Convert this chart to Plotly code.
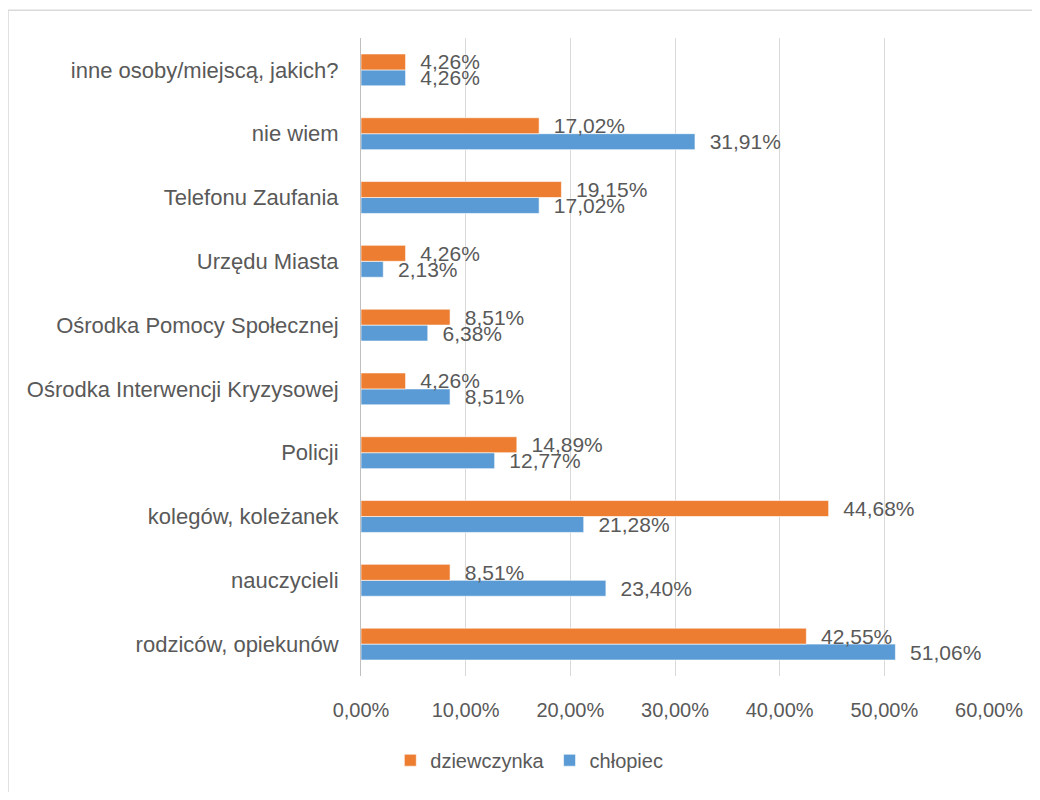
import plotly.graph_objects as go

# categories listed bottom -> top
CATEGORIES = [
    "rodziców, opiekunów",
    "nauczycieli",
    "kolegów, koleżanek",
    "Policji",
    "Ośrodka Interwencji Kryzysowej",
    "Ośrodka Pomocy Społecznej",
    "Urzędu Miasta",
    "Telefonu Zaufania",
    "nie wiem",
    "inne osoby/miejscą, jakich?",
]
DZIEWCZYNKA = [0.4255, 0.0851, 0.4468, 0.1489, 0.0426, 0.0851, 0.0426, 0.1915, 0.1702, 0.0426]
CHLOPIEC = [0.5106, 0.2340, 0.2128, 0.1277, 0.0851, 0.0638, 0.0213, 0.1702, 0.3191, 0.0426]
X_TICKS = [0, 0.1, 0.2, 0.3, 0.4, 0.5, 0.6]

FONT = "Liberation Sans, Arial, sans-serif"
GREY = "#595959"

fig = go.Figure()
for name, vals, color in [("chłopiec", CHLOPIEC, "#5B9BD5"),
                          ("dziewczynka", DZIEWCZYNKA, "#ED7D31")]:
    fig.add_trace(go.Bar(
        y=CATEGORIES, x=vals, name=name, orientation="h",
        marker=dict(color=color, line=dict(color="rgba(255,255,255,0.6)", width=1)),
        texttemplate="\u00a0\u00a0%{x:.2%}", textposition="outside",
        textfont=dict(size=21, color=GREY, family=FONT),
        cliponaxis=False, constraintext="none",
    ))

# page body adds 8px offset, so the figure is 16px smaller than the window
fig.update_layout(
    width=1024, height=784,
    separators=", ",
    font=dict(family=FONT, color=GREY, size=20),
    plot_bgcolor="white", paper_bgcolor="white",
    margin=dict(l=353, r=43, t=30, b=112),
    barmode="group", bargap=0.5, bargroupgap=0,
    showlegend=True,
    legend=dict(orientation="h", traceorder="reversed",
                x=0.268, xanchor="center", y=-0.132, yanchor="middle",
                itemwidth=30, font=dict(size=20, color=GREY)),
    xaxis=dict(range=[0, 0.6], tickvals=X_TICKS, tickformat=".2%",
               showgrid=True, gridcolor="#d9d9d9", gridwidth=1,
               zeroline=False, showline=False, ticks="",
               ticklabelstandoff=20, automargin=False,
               tickfont=dict(size=20, color=GREY)),
    yaxis=dict(categoryorder="array", categoryarray=CATEGORIES,
               showline=True, linecolor="#bfbfbf", linewidth=1,
               showgrid=False, ticks="", ticklabelstandoff=17,
               automargin=False,
               tickfont=dict(size=22, color=GREY)),
    shapes=[
        dict(type="line", xref="paper", yref="paper",
             x0=-0.5621, x1=-0.5621, y0=1.0436, y1=-0.2,
             line=dict(color="#d9d9d9", width=1.5)),
        dict(type="line", xref="paper", yref="paper",
             x0=-0.5621, x1=1.1, y0=1.0436, y1=1.0436,
             line=dict(color="#d9d9d9", width=1.5)),
    ],
)

fig.write_html("out.html")
